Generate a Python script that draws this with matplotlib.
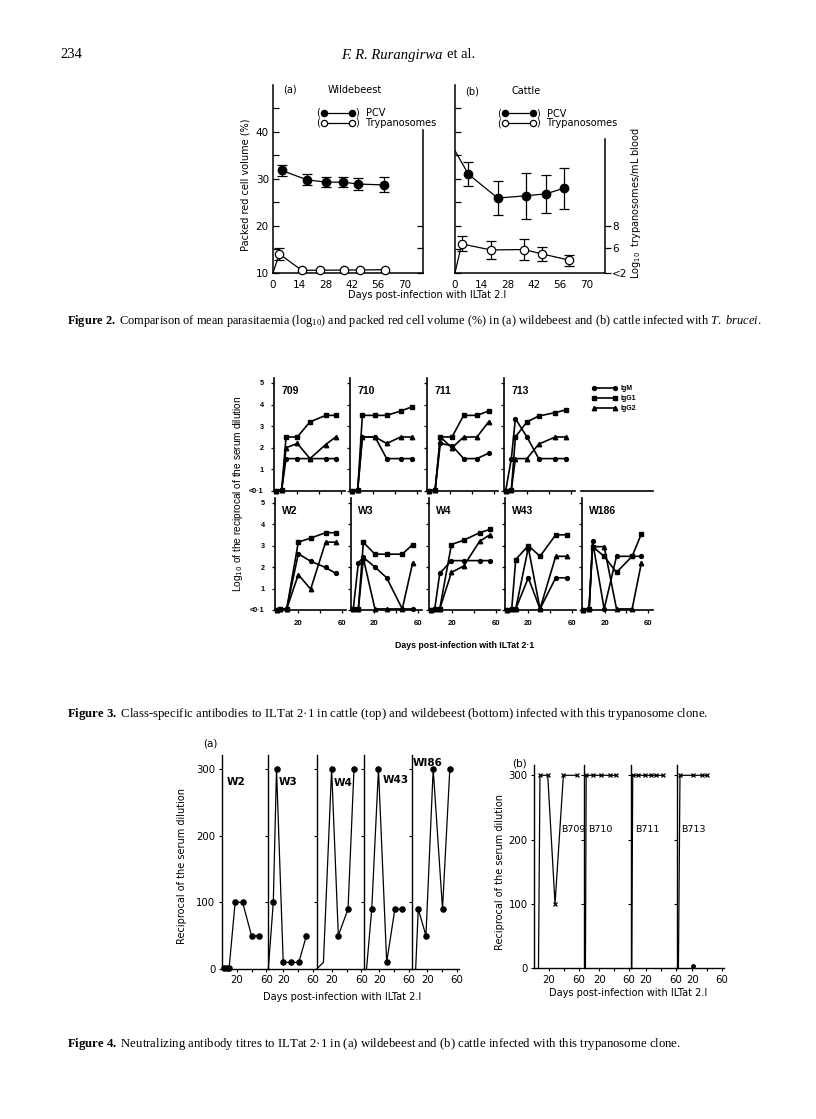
import matplotlib
matplotlib.use("Agg")
import matplotlib.pyplot as plt
from matplotlib.lines import Line2D

W, H = 816, 1119

plt.rcParams["mathtext.fontset"] = "custom"
plt.rcParams["mathtext.rm"] = "Liberation Serif"
plt.rcParams["mathtext.it"] = "Liberation Serif:italic"
plt.rcParams["mathtext.bf"] = "Liberation Serif:bold"
plt.rcParams["mathtext.sf"] = "DejaVu Sans"
plt.rcParams["font.family"] = "DejaVu Sans"

# ---------------- data: Figure 2 (mean +/- error) ----------------
fig2_xticks = [0, 14, 28, 42, 56, 70]
pcv_a_day = [4.6, 18.1, 28.1, 37.3, 45.3, 59.2]
pcv_a_val = [31.8, 29.8, 29.3, 29.3, 28.9, 28.7]
pcv_a_err = [1.2, 1.2, 1.1, 1.1, 1.3, 1.6]
tryp_a_day = [0, 3.4, 15.3, 25.1, 38.0, 46.4, 59.7]
tryp_a_val = [3.83, 5.5, 4.05, 4.05, 4.07, 4.07, 4.1]
tryp_a_err = [0, 0.5, 0, 0, 0, 0, 0]

pcv_b_day = [0, 7.1, 22.8, 37.9, 48.5, 58.0]
pcv_b_val = [36.0, 31.0, 25.9, 26.4, 26.8, 28.0]
pcv_b_err = [0, 2.5, 3.6, 4.9, 4.1, 4.4]
tryp_b_day = [0, 3.6, 19.2, 36.8, 46.6, 61.0]
tryp_b_val = [3.83, 6.4, 5.86, 5.9, 5.5, 4.95]
tryp_b_err = [0, 0.67, 0.8, 0.9, 0.64, 0.5]
TRYP_LOW = 3.83  # plotted as "<2"

# ---------------- data: Figure 3 (log10 titres, 0 = "<0.1") ----------------
d709 = [0, 5.6, 9.6, 20, 31.7, 46.2, 55.4]
igm709 = [0, 0.05, 1.5, 1.5, 1.5, 1.5, 1.5]
igg1_709 = [0, 0.05, 2.5, 2.5, 3.2, 3.5, 3.5]
igg2_709 = [0, 0.05, 2.0, 2.2, 1.5, 2.15, 2.5]

d710 = [0, 5.6, 9.9, 21.6, 32.3, 45.2, 55.9]
igm710 = [0, 0.05, 2.5, 2.5, 1.5, 1.5, 1.5]
igg1_710 = [0, 0.05, 3.5, 3.5, 3.5, 3.7, 3.9]
igg2_710 = [0, 0.05, 2.5, 2.5, 2.2, 2.5, 2.5]

d711 = [0, 6.0, 10.8, 21.6, 32.3, 44.6, 55.3]
igm711 = [0, 0.05, 2.2, 2.1, 1.5, 1.5, 1.75]
igg1_711 = [0, 0.05, 2.5, 2.5, 3.5, 3.5, 3.7]
igg2_711 = [0, 0.05, 2.5, 2.0, 2.5, 2.5, 3.2]

d713 = [0, 5.3, 9.0, 19.7, 30.5, 45.9, 55.4]
igm713 = [0, 1.5, 3.35, 2.5, 1.5, 1.5, 1.5]
igg1_713 = [0, 0.05, 2.5, 3.2, 3.47, 3.63, 3.75]
igg2_713 = [0, 0.05, 1.5, 1.5, 2.17, 2.5, 2.5]

dW2 = [0, 3.1, 9.3, 20, 31.4, 45.2, 54.7]
igmW2 = [0, 0.05, 0.05, 2.62, 2.27, 1.98, 1.7]
igg1_W2 = [0, 0.05, 0.05, 3.16, 3.35, 3.6, 3.6]
igg2_W2 = [0, 0.05, 0.05, 1.65, 0.97, 3.16, 3.16]

dW3 = [0.6, 5.3, 9.9, 20.6, 31.4, 45.8, 55.4]
igmW3 = [0.05, 2.2, 2.45, 2.0, 1.5, 0.05, 0.05]
igg1_W3 = [0.05, 0.05, 3.15, 2.6, 2.6, 2.6, 3.05]
igg2_W3 = [0.05, 0.05, 2.4, 0.05, 0.05, 0.05, 2.2]

dW4 = [0, 3.8, 8.4, 19.2, 30.5, 45.2, 54.5]
igmW4 = [0, 0.05, 1.7, 2.3, 2.3, 2.3, 2.3]
igg1_W4 = [0, 0.05, 0.05, 3.05, 3.25, 3.6, 3.75]
igg2_W4 = [0, 0.05, 0.05, 1.75, 2.05, 3.2, 3.5]

dW43 = [0, 4.7, 8.4, 20, 30.8, 45.3, 55.4]
igmW43 = [0, 0.05, 0.05, 1.5, 0.05, 1.5, 1.5]
igg1_W43 = [0, 0.05, 2.35, 3.0, 2.5, 3.5, 3.5]
igg2_W43 = [0, 0.05, 0.05, 2.9, 0.05, 2.5, 2.5]

dW186 = [0, 5.5, 8.7, 19.4, 30.8, 45.2, 53.8]
igmW186 = [0, 0.05, 3.2, 0.05, 2.5, 2.5, 2.5]
igg1_W186 = [0, 0.05, 2.95, 2.5, 1.75, 2.5, 3.55]
igg2_W186 = [0, 0.05, 2.95, 2.95, 0.05, 0.05, 2.2]

# ---------------- data: Figure 4 (neutralizing titres) ----------------
nW2_day = [3, 7, 10, 18, 28, 40, 50]
nW2_val = [2, 2, 2, 100, 100, 50, 50]
nW3_day = [0, 6.7, 11, 20, 31, 41, 51]
nW3_val = [0, 100, 300, 10, 10, 10, 50]
nW4_day = [0, 9, 20, 29, 42, 50]
nW4_val = [0, 10, 300, 50, 90, 300]
nW43_day = [3, 10, 19, 30, 41, 51]
nW43_val = [0, 90, 300, 10, 90, 90]
nW186_day = [4.5, 8, 18.3, 28, 40.5, 50.3]
nW186_val = [0, 90, 50, 300, 90, 300]

nB709_day = [6, 8, 18.4, 28.2, 39.4, 57.3]
nB709_val = [0, 300, 300, 100, 300, 300]
nB710_day = [1.5, 2.5, 11, 23, 34, 43]
nB710_val = [0, 300, 300, 300, 300, 300]
nB711_day = [1.0, 2.3, 9.8, 18.8, 26.8, 33.5, 42.5]
nB711_val = [0, 300, 300, 300, 300, 300, 300]
nB713_day = [1.5, 3.6, 20.6, 33, 40]
nB713_val = [0, 300, 300, 300, 300]
nB713_dot_day = [20.6]
nB713_dot_val = [4]

fig = plt.figure(figsize=(W / 100, H / 100), dpi=100)


def box(x0, y0, x1, y1):
    # pixel rectangle measured from the top-left of the page
    return fig.add_axes([x0 / W, 1 - y1 / H, (x1 - x0) / W, (y1 - y0) / H])


def ftext(x, y, s, **kw):
    kw.setdefault("va", "center")
    return fig.text(x / W, 1 - y / H, s, **kw)


def bare(ax, keep=("left", "bottom")):
    for s in ["top", "right", "left", "bottom"]:
        if s not in keep:
            ax.spines[s].set_visible(False)
    ax.patch.set_alpha(0)


# ---------------- page header ----------------
serif = "Liberation Serif"
ftext(60, 55, "234", family=serif, fontsize=10.5)
ftext(341, 55, "F. R. Rurangirwa", family=serif, style="italic", fontsize=10.5)
ftext(447, 55, "et al.", family=serif, fontsize=10.5)

# ---------------- Figure 2 ----------------
def fig2_key(x, y, face, label):
    fig.add_artist(Line2D([(x + 8) / W, (x + 36) / W], [1 - y / H] * 2, color="k", lw=0.9,
                          marker="o", ms=4.5, mfc=face, mec="k", mew=0.9))
    ftext(x, y, "(", fontsize=7)
    ftext(x + 40, y, ")  " + label, fontsize=7)


def fig2_panel(x0, pcv_d, pcv_v, pcv_e, tr_d, tr_v, tr_e, left_lab, right_lab, right_top):
    ax = box(x0, 85, x0 + 150, 272.7)
    bare(ax)
    ax.set_xlim(0, 80)
    ax.set_ylim(10, 50)
    ax.set_xticks(fig2_xticks)
    ax.set_yticks([10, 20, 30, 40])
    ax.set_yticks([15, 25, 35, 45], minor=True)
    ax.tick_params(axis="y", which="both", direction="in", length=4, width=0.9, labelsize=7.5, pad=3)
    ax.tick_params(axis="x", length=0, labelsize=7.5, pad=5)
    for s in ax.spines.values():
        s.set_linewidth(1.1)
    if not left_lab:
        ax.set_yticklabels([])

    ax2 = ax.twinx()
    bare(ax2, keep=("right",))
    ax2.set_ylim(TRYP_LOW, TRYP_LOW + 16.76)
    ax2.spines["right"].set_bounds(TRYP_LOW, right_top)
    ax2.spines["right"].set_linewidth(1.1)
    ax2.set_yticks([TRYP_LOW, 6, 8])
    if right_lab:
        ax2.set_yticklabels(["<2", "6", "8"])
        ax2.tick_params(axis="y", direction="out", length=4, width=0.9, labelsize=7.5, pad=1)
    else:
        ax2.set_yticklabels([])
        ax2.tick_params(axis="y", direction="in", length=4, width=0.9)

    first = 1 if pcv_d[0] == 0 else 0
    ax.plot(pcv_d, pcv_v, "-", color="k", lw=0.9, marker="o", ms=6, mfc="k", mec="k",
            markevery=list(range(first, len(pcv_d))), zorder=3)
    ax.errorbar(pcv_d[first:], pcv_v[first:], yerr=pcv_e[first:], fmt="none", ecolor="k",
                elinewidth=0.9, capsize=3.5, capthick=0.9)
    ax2.plot(tr_d, tr_v, "-", color="k", lw=0.9, marker="o", ms=6, mfc="white", mec="k", mew=0.9,
             markevery=list(range(1, len(tr_d))), zorder=3, clip_on=False)
    idx = [i for i, e in enumerate(tr_e) if e > 0]
    ax2.errorbar([tr_d[i] for i in idx], [tr_v[i] for i in idx], yerr=[tr_e[i] for i in idx],
                 fmt="none", ecolor="k", elinewidth=0.9, capsize=3.5, capthick=0.9, zorder=2)
    return ax, ax2


fig2_panel(273, pcv_a_day, pcv_a_val, pcv_a_err, tryp_a_day, tryp_a_val, tryp_a_err,
           True, False, 16.6)
fig2_panel(455, pcv_b_day, pcv_b_val, pcv_b_err, tryp_b_day, tryp_b_val, tryp_b_err,
           False, True, 15.8)

ftext(283, 90, "(a)", fontsize=7)
ftext(328, 90, "Wildebeest", fontsize=7)
ftext(465, 91, "(b)", fontsize=7)
ftext(512, 91, "Cattle", fontsize=7)
fig2_key(316, 112.5, "k", "PCV")
fig2_key(316, 122.5, "white", "Trypanosomes")
fig2_key(497, 113, "k", "PCV")
fig2_key(497, 123, "white", "Trypanosomes")
ftext(245, 185, "Packed red cell volume (%)", rotation=90, ha="center", fontsize=7)
ftext(636, 203, r"Log$_{\mathsf{10}}$  trypanosomes/mL blood", rotation=90, ha="center", fontsize=7)
ftext(427, 295, "Days post-infection with ILTat 2.I", ha="center", fontsize=7)

ftext(67, 321, r"$\bf{Figure\ 2.}$ Comparison of mean parasitaemia (log$_{10}$) and packed red cell volume (%) "
      r"in (a) wildebeest and (b) cattle infected with $\it{T.\ brucei}$.", family=serif, fontsize=8.9)

# ---------------- Figure 3 ----------------
sans_b = {"family": "Liberation Sans", "weight": "bold"}
fig3_panels = [
    (274, 0, "709", d709, igm709, igg1_709, igg2_709),
    (350, 0, "710", d710, igm710, igg1_710, igg2_710),
    (427, 0, "711", d711, igm711, igg1_711, igg2_711),
    (504, 0, "713", d713, igm713, igg1_713, igg2_713),
    (275, 1, "W2", dW2, igmW2, igg1_W2, igg2_W2),
    (351, 1, "W3", dW3, igmW3, igg1_W3, igg2_W3),
    (429, 1, "W4", dW4, igmW4, igg1_W4, igg2_W4),
    (505, 1, "W43", dW43, igmW43, igg1_W43, igg2_W43),
    (581.5, 1, "W186", dW186, igmW186, igg1_W186, igg2_W186),
]
row_y = [(378, 491), (497.7, 610)]
handles = None
for x0, row, name, d, igm, g1, g2 in fig3_panels:
    y0, y1 = row_y[row]
    ax = box(x0, y0, x0 + 71, y1)
    bare(ax)
    for s in ax.spines.values():
        s.set_linewidth(1.2)
    ax.set_xlim(-1.5, 64)
    ax.set_ylim(0, 5.23)
    ax.set_yticks([0, 1, 2, 3, 4, 5])
    ax.set_xticks([20, 40, 60])
    ax.tick_params(direction="out", length=2.5, width=0.9, labelsize=5.2, pad=2)
    if x0 < 280:
        ax.set_yticklabels(["<0·1", "1", "2", "3", "4", "5"], **sans_b)
        ax.tick_params(axis="y", pad=5)
    else:
        ax.set_yticklabels([])
    if row == 1:
        ax.set_xticklabels(["20", "", "60"], **sans_b)
        ax.tick_params(axis="x", pad=5, labelsize=5.6)
    else:
        ax.set_xticklabels([])
    l1, = ax.plot(d, igm, "-", color="k", lw=1.2, marker="o", ms=2.8, clip_on=False)
    l2, = ax.plot(d, g1, "-", color="k", lw=1.2, marker="s", ms=3.2, clip_on=False)
    l3, = ax.plot(d, g2, "-", color="k", lw=1.2, marker="^", ms=3.2, clip_on=False)
    handles = handles or [l1, l2, l3]
    ax.text(0.1, 0.93, name, transform=ax.transAxes, va="top", fontsize=7.5, **sans_b)

ax_empty = box(581, 378, 653, 491)
bare(ax_empty, keep=("bottom",))
ax_empty.spines["bottom"].set_linewidth(1.2)
ax_empty.set_xticks([])
ax_empty.set_yticks([])
fig.legend(handles, ["IgM", "IgG1", "IgG2"], loc="upper left", bbox_to_anchor=(592 / W, 1 - 385 / H),
           frameon=False, numpoints=2, handlelength=3.6, handletextpad=0.5, labelspacing=0.45,
           borderpad=0, borderaxespad=0, prop={"family": "Liberation Sans", "weight": "bold", "size": 5})

ftext(238, 494, r"Log$_{\mathsf{10}}$ of the reciprocal of the serum dilution", rotation=90,
      ha="center", family="Liberation Sans", fontsize=7.3)
ftext(465, 645, "Days post-infection with ILTat 2·1", ha="center", fontsize=6.3, **sans_b)

ftext(67, 714, r"$\bf{Figure\ 3.}$ Class-specific antibodies to ILTat 2·1 in cattle (top) and wildebeest "
      r"(bottom) infected with this trypanosome clone.", family=serif, fontsize=9.2)

# ---------------- Figure 4 ----------------
def fig4_panel(x0, y0, y1, ytop, day, val, mark, show_left, m):
    ax = box(x0, y0, x0 + 47, y1)
    bare(ax)
    for s in ax.spines.values():
        s.set_linewidth(1.0)
    ax.set_xlim(0, 63)
    ax.set_ylim(0, ytop)
    ax.set_yticks([0, 100, 200, 300])
    ax.set_xticks([20, 40, 60])
    ax.set_xticklabels(["20", "", "60"])
    ax.tick_params(direction="out", length=2.5, width=0.8, labelsize=7.3, pad=2)
    if show_left:
        ax.tick_params(axis="y", pad=2)
    else:
        ax.set_yticklabels([])
    ax.plot(day, val, "-", color="k", lw=0.9, marker=m, ms=3.8 if m == "o" else 3.2,
            mew=0.9, markevery=mark, clip_on=False)
    return ax


fig4a = [
    (221.7, nW2_day, nW2_val, list(range(len(nW2_day)))),
    (268.3, nW3_day, nW3_val, list(range(1, len(nW3_day)))),
    (316.7, nW4_day, nW4_val, list(range(2, len(nW4_day)))),
    (364.3, nW43_day, nW43_val, list(range(1, len(nW43_day)))),
    (412.3, nW186_day, nW186_val, list(range(1, len(nW186_day)))),
]
for i, (x0, dd, vv, mk) in enumerate(fig4a):
    fig4_panel(x0, 755, 969, 321, dd, vv, mk, i == 0, "o")

fig4b = [
    (534, nB709_day, nB709_val, list(range(1, len(nB709_day)))),
    (584.3, nB710_day, nB710_val, list(range(1, len(nB710_day)))),
    (631, nB711_day, nB711_val, list(range(1, len(nB711_day)))),
    (677.3, nB713_day, nB713_val, list(range(1, len(nB713_day)))),
]
for i, (x0, dd, vv, mk) in enumerate(fig4b):
    ax = fig4_panel(x0, 765, 968.3, 316, dd, vv, mk, i == 0, "x")
    if x0 > 670:
        ax.plot(nB713_dot_day, nB713_dot_val, "o", color="k", ms=2.5, clip_on=False)

for x, y, s, w in [(227, 782, "W2", "bold"), (279, 782, "W3", "bold"), (334, 783, "W4", "bold"),
                   (383, 780, "W43", "bold"), (413, 763, "WI86", "bold")]:
    ftext(x, y, s, fontsize=7.5, weight=w)
for x, s in [(561, "B709"), (588, "B710"), (635, "B711"), (681, "B713")]:
    ftext(x, 829, s, fontsize=6.8)

ftext(203, 743, "(a)", fontsize=7.5)
ftext(512, 763, "(b)", fontsize=7.5)
ftext(182, 866, "Reciprocal of the serum dilution", rotation=90, ha="center", fontsize=7)
ftext(500, 872, "Reciprocal of the serum dilution", rotation=90, ha="center", fontsize=7)
ftext(342, 997, "Days post-infection with ILTat 2.I", ha="center", fontsize=7)
ftext(628, 993, "Days post-infection with ILTat 2.I", ha="center", fontsize=7)

ftext(67, 1044, r"$\bf{Figure\ 4.}$ Neutralizing antibody titres to ILTat 2·1 in (a) wildebeest and (b) "
      r"cattle infected with this trypanosome clone.", family=serif, fontsize=9.2)

fig.savefig("out.png", dpi=100)
